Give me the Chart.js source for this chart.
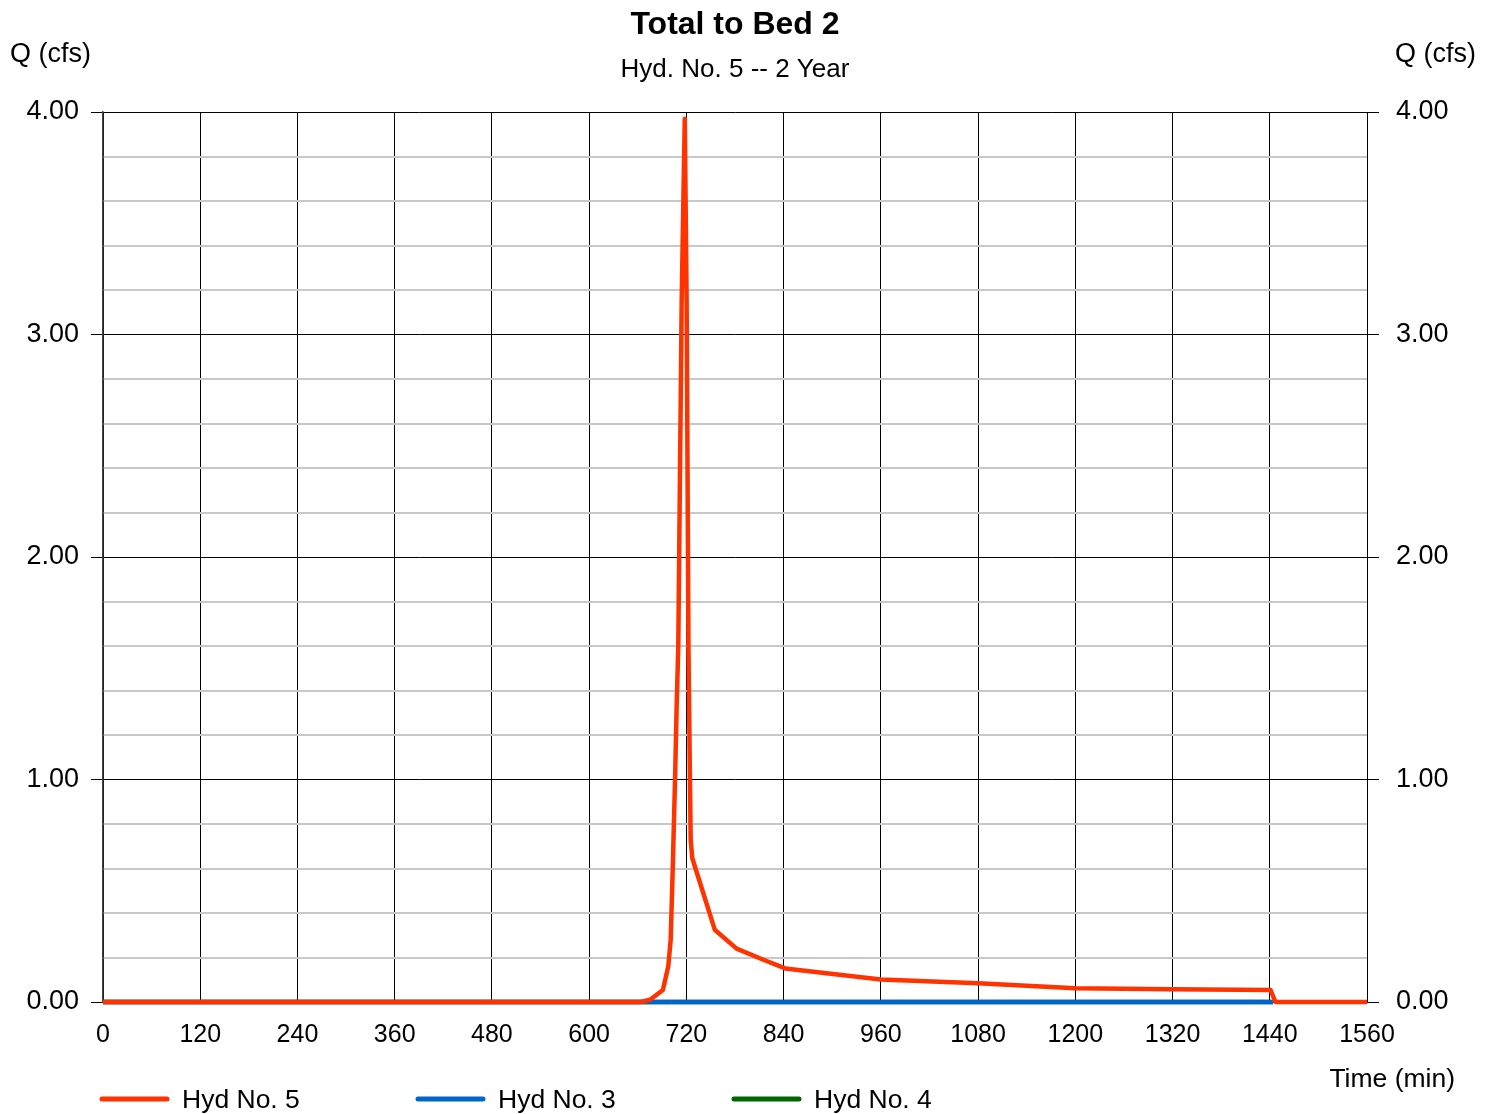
<!DOCTYPE html>
<html>
<head>
<meta charset="utf-8">
<title>Total to Bed 2</title>
<script src="https://cdn.jsdelivr.net/npm/chart.js@4.4.1/dist/chart.umd.min.js"></script>
<style>
  html, body { margin: 0; padding: 0; background: #fff; }
  #wrap { position: relative; width: 1494px; height: 1114px; }
</style>
</head>
<body>
<div id="wrap"><canvas id="hydChart"></canvas></div>
<script>
// values: time in min, flow in cfs
const hyd5Time = [0, 664, 676, 691, 697.6, 700.6, 703, 706, 708, 710, 714.2, 718, 720.3, 722.6, 724.4, 725.3, 727.3,
                  755, 782, 815, 842, 960, 1080, 1200, 1320, 1441, 1447, 1560];
const hyd5Flow = [0, 0, 0.012, 0.054, 0.159, 0.279, 0.58, 1.0, 1.33, 1.6, 3.155, 3.97, 3.155, 1.58, 1.0, 0.73, 0.646,
                  0.325, 0.24, 0.19, 0.151, 0.101, 0.084, 0.062, 0.057, 0.054, 0, 0];
const hyd3Time = [0, 1444];
const hyd3Flow = [0, 0];
const hyd4Time = [0, 1444];
const hyd4Flow = [0, 0];

const seriesNames  = ['Hyd No. 5', 'Hyd No. 3', 'Hyd No. 4'];
const seriesColors = ['#ff3300', '#0066cc', '#006600'];

const timeMin = 0, timeMax = 1560, timeStep = 120;
const flowMin = 0, flowMax = 4, flowStep = 0.2;

const chartTitle = 'Total to Bed 2';
const chartSubtitle = 'Hyd. No. 5 -- 2 Year';
const yLabel = 'Q (cfs)';
const xLabel = 'Time (min)';

const FONT = '"Liberation Sans", Arial, sans-serif';

function toPoints(xs, ys) {
  return xs.map((x, i) => ({ x: x, y: ys[i] }));
}
function isMajor(v) {
  return Math.abs(v - Math.round(v)) < 1e-6;
}

// titles, axis names and the legend row
const textPlugin = {
  id: 'hydText',
  afterDraw(chart) {
    const ctx = chart.ctx, a = chart.chartArea;
    const mid = (a.left + a.right) / 2;
    ctx.save();
    ctx.fillStyle = '#000';
    ctx.textBaseline = 'alphabetic';
    ctx.textAlign = 'center';
    ctx.font = 'bold 32px ' + FONT;
    ctx.fillText(chartTitle, mid, 34);
    ctx.font = '26px ' + FONT;
    ctx.fillText(chartSubtitle, mid, 77);

    ctx.font = '27px ' + FONT;
    ctx.textAlign = 'left';
    ctx.fillText(yLabel, 10, 62);
    ctx.textAlign = 'right';
    ctx.fillText(yLabel, 1476, 62);
    ctx.font = '26.5px ' + FONT;
    ctx.fillText(xLabel, 1455, 1087);

    // legend
    ctx.textAlign = 'left';
    chart.data.datasets.forEach((ds, i) => {
      const x0 = 102 + i * 316;
      ctx.strokeStyle = ds.borderColor;
      ctx.lineWidth = 5;
      ctx.lineCap = 'round';
      ctx.beginPath();
      ctx.moveTo(x0, 1099);
      ctx.lineTo(x0 + 65, 1099);
      ctx.stroke();
      ctx.fillText(ds.label, x0 + 80, 1108);
    });
    ctx.restore();
  }
};

const yTicksCommon = {
  type: 'linear',
  min: flowMin,
  max: flowMax,
  ticks: {
    stepSize: flowStep,
    autoSkip: false,
    color: '#000',
    font: { family: FONT, size: 27 },
    callback: v => isMajor(v) ? v.toFixed(2) : ''
  }
};

new Chart(document.getElementById('hydChart'), {
  type: 'line',
  data: {
    datasets: [
      { label: seriesNames[0], data: toPoints(hyd5Time, hyd5Flow), borderColor: seriesColors[0], borderWidth: 4.5, clip: 6 },
      { label: seriesNames[1], data: toPoints(hyd3Time, hyd3Flow), borderColor: seriesColors[1], borderWidth: 4.5, clip: 6 },
      { label: seriesNames[2], data: toPoints(hyd4Time, hyd4Flow), borderColor: seriesColors[2], borderWidth: 4.5, clip: 6 }
    ]
  },
  options: {
    responsive: true,
    maintainAspectRatio: false,
    animation: false,
    layout: { padding: { top: 112, left: 0, right: 0, bottom: 0 } },
    elements: {
      point: { radius: 0, hoverRadius: 0 },
      line: { tension: 0, borderJoinStyle: 'round', borderCapStyle: 'butt', fill: false }
    },
    plugins: {
      legend: { display: false },
      title: { display: false },
      tooltip: { enabled: false }
    },
    scales: {
      x: {
        type: 'linear',
        position: 'bottom',
        min: timeMin,
        max: timeMax,
        afterFit: s => { s.height = 112; },
        ticks: {
          stepSize: timeStep,
          maxRotation: 0,
          autoSkip: false,
          padding: 18,
          color: '#000',
          font: { family: FONT, size: 25 },
          callback: v => String(v)
        },
        grid: { color: '#000', lineWidth: 1, drawTicks: false },
        border: { color: '#000', width: 1 }
      },
      y: Object.assign({}, yTicksCommon, {
        position: 'left',
        afterFit: s => { s.width = 103; },
        ticks: Object.assign({}, yTicksCommon.ticks, { padding: 12 }),
        grid: {
          color: c => isMajor(c.tick.value) ? '#000' : '#c8c8c8',
          lineWidth: c => isMajor(c.tick.value) ? 1 : 2,
          tickColor: c => isMajor(c.tick.value) ? '#000' : 'rgba(0,0,0,0)',
          tickLength: 12
        },
        border: { color: '#444', width: 1.5 }
      }),
      y2: Object.assign({}, yTicksCommon, {
        position: 'right',
        afterFit: s => { s.width = 127; },
        ticks: Object.assign({}, yTicksCommon.ticks, { padding: 17 }),
        grid: {
          drawOnChartArea: false,
          tickColor: c => isMajor(c.tick.value) ? '#000' : 'rgba(0,0,0,0)',
          tickLength: 12
        },
        border: { color: '#000', width: 1 }
      })
    }
  },
  plugins: [textPlugin]
});
</script>
</body>
</html>
